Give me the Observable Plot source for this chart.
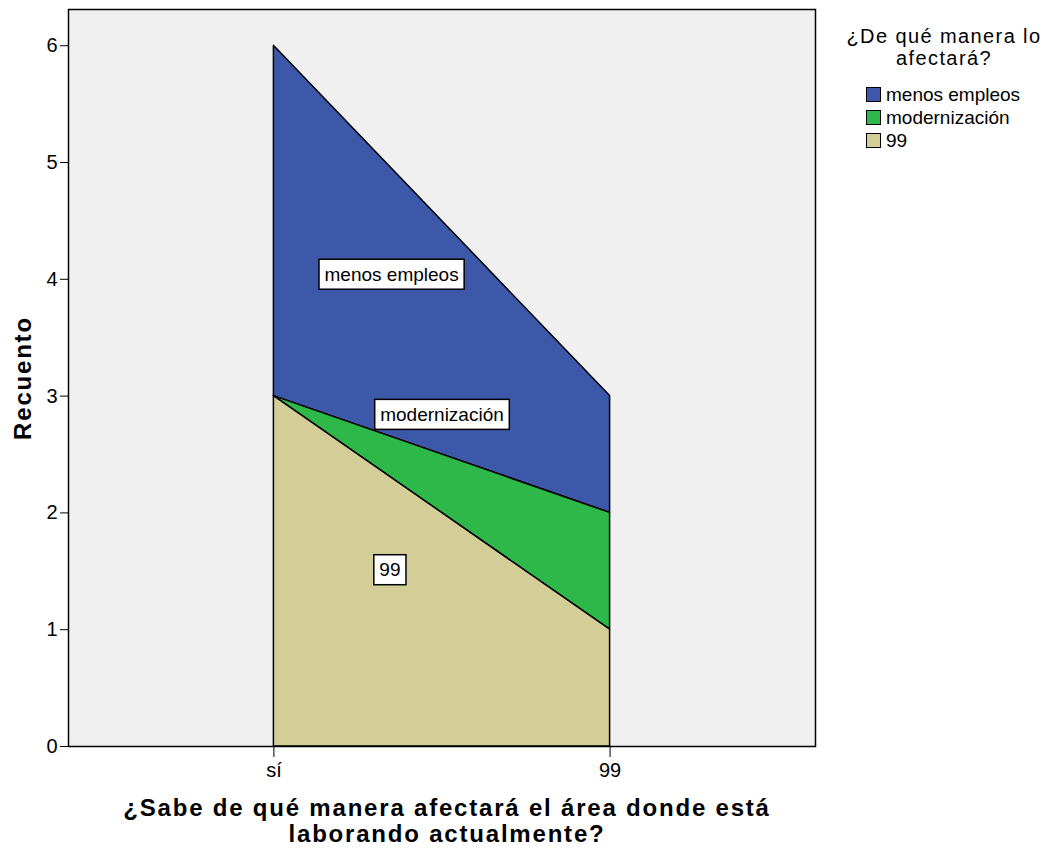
<!DOCTYPE html>
<html><head><meta charset="utf-8">
<script src="https://cdn.jsdelivr.net/npm/d3@7"></script>
<script src="https://cdn.jsdelivr.net/npm/@observablehq/plot@0.6"></script>
<style>
body{margin:0;background:#fff;font-family:"Liberation Sans",Arial,sans-serif}
#wrap{position:relative;width:1052px;height:852px;overflow:hidden}
#legend{position:absolute;left:830px;top:25px;width:228px;color:#000}
#legend .ttl{font-size:20px;letter-spacing:1.4px;line-height:22px;text-align:center;width:228px}
#legend .items{margin-top:14px;margin-left:36px}
#legend .it{display:flex;align-items:center;height:23px;font-size:19px}
#legend .sw{width:13px;height:13px;border:1.5px solid #000;margin-right:5px}
</style></head><body><div id="wrap"></div>
<script>
// ---- data ----
const categories = ["sí", "99"];
const series = ["menos empleos", "modernización", "99"];
const menosEmpleos = [3, 1];
const modernizacion = [0, 1];
const noResp = [3, 1];
const stackOrder = ["99", "modernización", "menos empleos"];
const colors = ["#3D58A9", "#2EB84A", "#D3CD98"];
const yTicks = [0, 1, 2, 3, 4, 5, 6];
const labelX = [0.35, 0.5, 0.345];
const labelY = [4.04, 2.84, 1.51];
const yTitle = "Recuento";
const xTitle = "¿Sabe de qué manera afectará el área donde está\nlaborando actualmente?";
const legendTitle = ["¿De qué manera lo", "afectará?"];

const values = [menosEmpleos, modernizacion, noResp];
const rows = [];
series.forEach((s, i) => categories.forEach((c, j) => rows.push({x: j, series: s, value: values[i][j]})));
const labels = series.map((s, i) => ({series: s, x: labelX[i], y: labelY[i]}));

const font = "'Liberation Sans', Arial, sans-serif";
const plot = Plot.plot({
  width: 1052, height: 852,
  marginLeft: 68, marginRight: 237, marginTop: 9, marginBottom: 106,
  style: {fontFamily: font, fontSize: "19px", color: "#000", background: "transparent", overflow: "visible"},
  x: {type: "linear", domain: [-0.611, 1.611], ticks: [0, 1], tickSize: 11, tickPadding: 5, tickFormat: i => categories[i], label: null},
  y: {domain: [0, 6.31], ticks: yTicks, tickSize: 8, tickPadding: 3, tickFormat: d => d, label: null},
  color: {domain: series, range: colors},
  marks: [
    Plot.frame({fill: "#F0F0F0"}),
    Plot.areaY(rows, {x: "x", y: "value", z: "series", fill: "series", order: stackOrder, stroke: "#000", strokeWidth: 1.5, fillOpacity: 1}),
    Plot.frame({stroke: "#000", strokeWidth: 1.5}),
    Plot.text(labels, {x: "x", y: "y", text: "series", fontSize: 19, fill: "#000"}),
    Plot.text([yTitle], {text: d => d, frameAnchor: "left", textAnchor: "middle", dx: -45, rotate: -90, fontSize: 24, fontWeight: "bold", fill: "#000"}),
    Plot.text([xTitle], {text: d => d, frameAnchor: "bottom", textAnchor: "middle", lineAnchor: "middle", dx: 5, dy: 74, lineHeight: 1.083, fontSize: 24, fontWeight: "bold", fill: "#000"})
  ]
});
document.getElementById("wrap").appendChild(plot);

// boxes behind the in-chart labels, letter spacing on titles, larger tick labels
plot.querySelectorAll("text").forEach(t => {
  const inTextMark = t.closest('g[aria-label="text"]');
  if (!inTextMark) {
    t.style.fontSize = "20px";
    return;
  }
  const txt = t.textContent;
  if (series.includes(txt)) {
    const b = t.getBBox();
    const r = document.createElementNS("http://www.w3.org/2000/svg", "rect");
    r.setAttribute("x", b.x - 5.5);
    r.setAttribute("y", b.y - 4.5);
    r.setAttribute("width", b.width + 11);
    r.setAttribute("height", b.height + 9);
    r.setAttribute("fill", "#fff");
    r.setAttribute("stroke", "#000");
    r.setAttribute("stroke-width", 1.5);
    if (t.getAttribute("transform")) r.setAttribute("transform", t.getAttribute("transform"));
    t.parentNode.insertBefore(r, t);
  } else {
    t.style.letterSpacing = "1.8px";
  }
});

// legend
const lg = document.createElement("div");
lg.id = "legend";
lg.innerHTML = `<div class="ttl">${legendTitle.join("<br>")}</div><div class="items">` +
  series.map((s, i) => `<div class="it"><div class="sw" style="background:${colors[i]}"></div>${s}</div>`).join("") + `</div>`;
document.getElementById("wrap").appendChild(lg);
</script>
</body></html>
